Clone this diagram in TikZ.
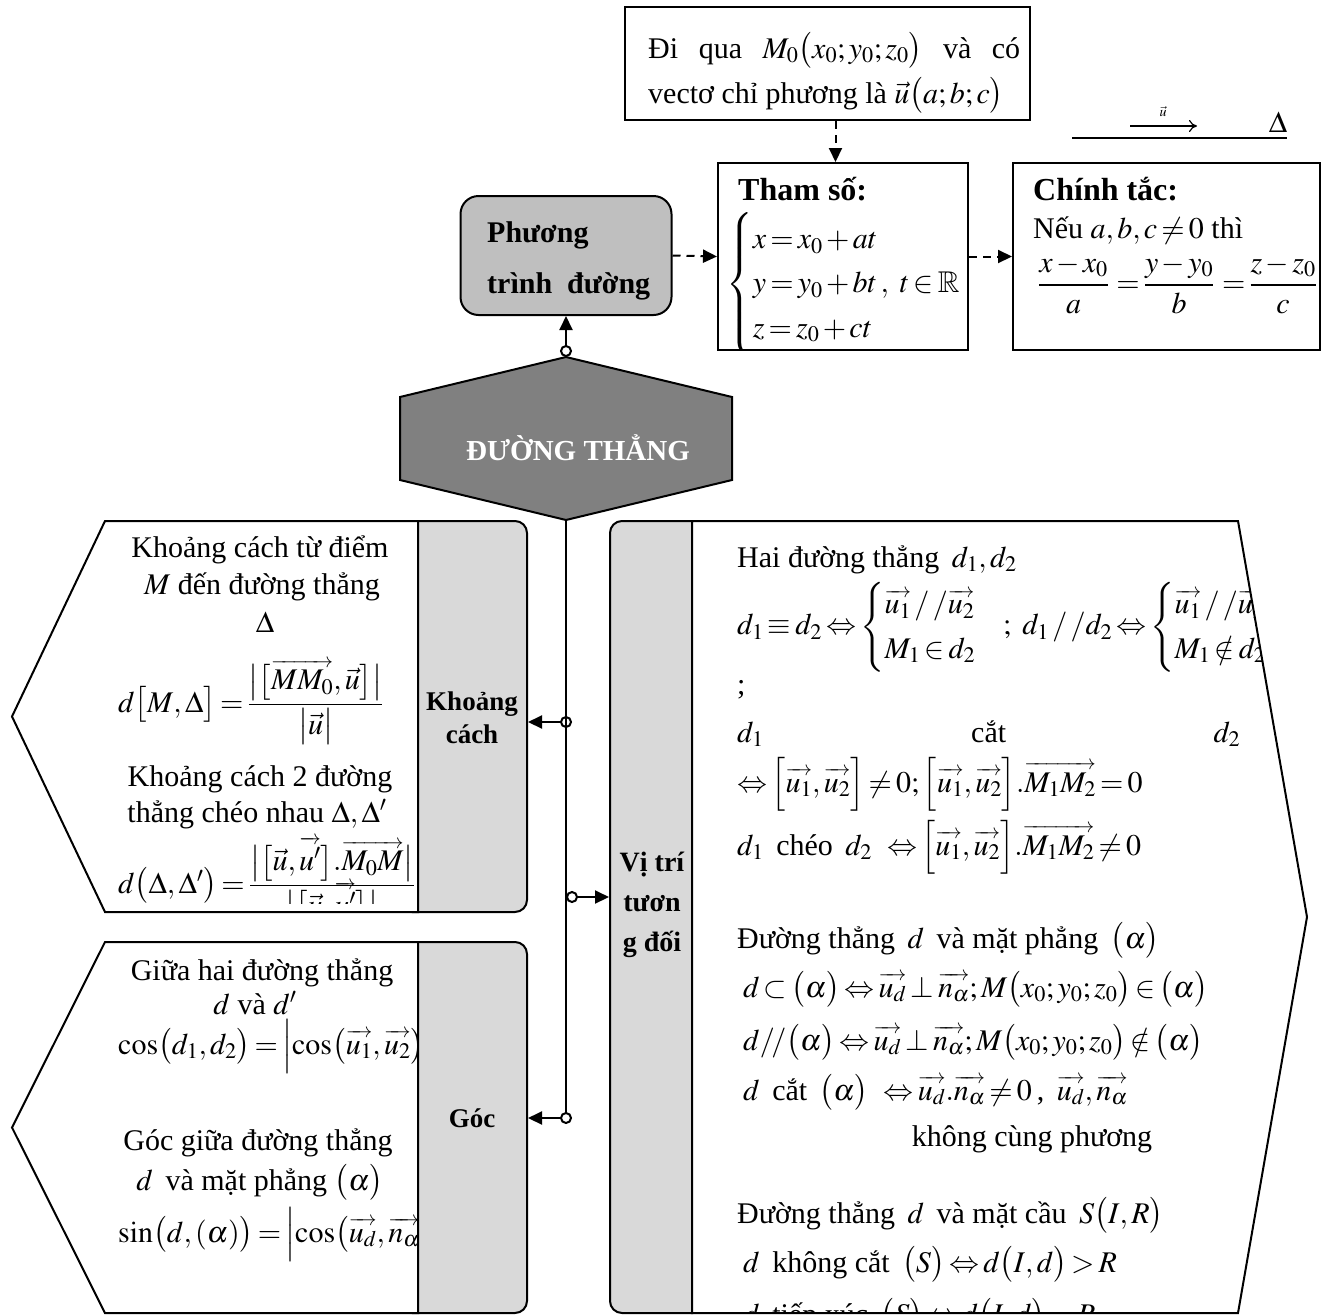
\documentclass[tikz,border=0pt]{standalone}
\usepackage{amsmath}
\usepackage{mathptmx}
\usepackage{amssymb}
\usepackage{fontspec}
\setmainfont{Liberation Serif}
\usetikzlibrary{arrows.meta}
\DeclareSymbolFont{lmsyms}{OMS}{lmsy}{m}{n}
\DeclareMathSymbol{\lmrightarrow}{\mathrel}{lmsyms}{"21}
\DeclareMathSymbol{\lmminus}{\mathord}{lmsyms}{"00}
\makeatletter
\newcommand{\vuarrowfill}{$\m@th\scriptstyle\smash{\lmminus}\mkern-7mu\cleaders\hbox{$\scriptstyle\mkern-2mu\smash{\lmminus}\mkern-2mu$}\hfill\mkern-7mu\smash{\lmrightarrow}$}
\newcommand{\vu}[1]{\mathord{\vbox{\m@th\ialign{##\crcr\vuarrowfill\crcr\noalign{\kern3pt\nointerlineskip}$\hfil#1\hfil$\crcr}}}}
\makeatother
\newcommand{\pa}[1]{\bigl(#1\bigr)}
\thickmuskip=2.5mu plus 1mu
\medmuskip=2mu plus 1mu
\tikzset{
  txt/.style={font=\fontsize{30}{37}\selectfont, inner sep=0pt},
  ltxt/.style={txt, anchor=base west},
  ctxt/.style={txt, anchor=base},
  hd/.style={font=\fontsize{32}{38}\selectfont\bfseries, inner sep=0pt, anchor=base west},
  lab/.style={font=\fontsize{27}{33}\selectfont\bfseries, align=center, inner sep=0pt},
  wbox/.style={draw, line width=2pt, rectangle, inner sep=0pt},
  gbox/.style={draw, line width=2pt, fill=gray!30, rounded corners=12pt, inner sep=0pt},
  panel/.style={draw, line width=2pt, fill=white, line join=miter},
  conn/.style={line width=2pt, {Circle[open,length=12pt,width=12pt,line width=2pt]}-{Triangle[length=14pt,width=13pt]}},
  dconn/.style={line width=2pt, dash pattern=on 8pt off 6pt, -{Triangle[length=14pt,width=13pt]}},
}

\begin{document}
\begin{tikzpicture}[x=1pt,y=-1pt]
\useasboundingbox (0,0) rectangle (1323,1315);
\fill[white] (0,0) rectangle (1323,1315);

\node[wbox, minimum width=405pt, minimum height=113pt] (dq) at (827.5,63.5) {};
\node[ltxt] (dq1) at (648,58) {\hbox to 372pt{Đi\hfill qua\hfill $M_0\bigl(x_0;y_0;z_0\bigr)$\hfill và\hfill có}};
\node[ltxt] (dq2) at (648,103) {vectơ chỉ phương là $\vec{u}\bigl(a;b;c\bigr)$};

\node[wbox, minimum width=250pt, minimum height=187pt] (ts) at (843,256.5) {};
\node[wbox, minimum width=307pt, minimum height=187pt] (ct) at (1166.5,256.5) {};
\node[gbox, fill=gray!50, rounded corners=18pt, minimum width=211pt, minimum height=119pt] (pt) at (566,255.5) {};

\node[hd, font=\fontsize{30}{36}\selectfont\bfseries] (pt1) at (487,242) {Phương};
\node[hd, font=\fontsize{30}{36}\selectfont\bfseries] (pt2) at (487,293) {trình\ \ đường};

\begin{scope}
\clip (718,163) rectangle (967,350);
\node[hd] (ts1) at (738,200) {Tham số:};
\node[txt, anchor=west] (ts2) at (726,284) {$\begin{cases}x=x_0+at\\ y=y_0+bt\,,\ t\in\mathbb{R}\\ z=z_0+ct\end{cases}$};
\end{scope}

\node[hd] (ct1) at (1033,200) {Chính tắc:};
\node[ltxt] (ct2) at (1033,238) {Nếu $a,b,c\neq0$ thì};
\node[txt, anchor=west] (ct3) at (1038,284) {$\dfrac{x-x_0}{a}\,=\dfrac{y-y_0}{b}\,=\dfrac{z-z_0}{c}$};

\coordinate (la) at (1072,138);
\coordinate (lb) at (1287,138);
\draw[line width=1.5pt] (la) -- (lb);
\coordinate (ua) at (1130,126);
\coordinate (ub) at (1197,126);
\draw[line width=1.2pt, -{To[length=8pt,width=12pt]}] (ua) -- (ub);
\node[inner sep=0pt, font=\fontsize{14}{16}\selectfont] (ul) at (1163,112) {$\vec{u}$};
\node[txt] (dl) at (1278,122) {$\Delta$};

\filldraw[fill=gray, line width=2pt] (566,357) -- (732,397) -- (732,480) -- (566,520) -- (400,480) -- (400,397) -- cycle;
\coordinate (ht) at (566,357);
\coordinate (hb) at (566,520);
\node[font=\fontsize{29}{34}\selectfont\bfseries, text=white, inner sep=0pt] (hx) at (578,448) {ĐƯỜNG THẲNG};

\node[gbox, minimum width=127pt, minimum height=391pt] (kc) at (463.5,716.5) {};
\node[gbox, minimum width=127pt, minimum height=371pt] (gc) at (463.5,1127.5) {};
\node[gbox, minimum width=95pt, minimum height=792pt] (vt) at (657.5,917) {};

\filldraw[panel] (105,521) -- (418,521) -- (418,912) -- (105,912) -- (12,716.5) -- cycle;
\filldraw[panel] (105,942) -- (418,942) -- (418,1313) -- (105,1313) -- (12,1127.5) -- cycle;
\filldraw[panel] (692,521) -- (1238,521) -- (1307,917) -- (1238,1313) -- (692,1313) -- cycle;

\node[lab] (kcl) at (472,718) {Khoảng\\cách};
\node[lab] (gcl) at (472,1118) {Góc};
\node[lab, font=\fontsize{28}{40}\selectfont\bfseries] (vtl) at (652,905) {Vị trí\\tươn\\g đối};

\begin{scope}
\clip (12,525) rectangle (416,903);
\node[ctxt] (k1) at (260,557) {Khoảng cách từ điểm};
\node[ctxt] (k2) at (262,594) {$M$ đến đường thẳng};
\node[ctxt] (k3) at (265,632) {$\Delta$};
\node[ltxt] (k4) at (118,712) {$d\bigl[M,\Delta\bigr]=\dfrac{\bigl|\bigl[\vu{MM_0},\vec{u}\bigr]\bigr|}{\bigl|\vec{u}\bigr|}$};
\node[ctxt] (k5) at (260,786) {Khoảng cách 2 đường};
\node[ctxt] (k6) at (257,822) {thẳng chéo nhau $\Delta,\Delta'$};
\node[ltxt] (k7) at (118,893) {$d\bigl(\Delta,\Delta'\bigr)=\dfrac{\bigl|\bigl[\vec{u},\vu{u'}\bigr].\vu{M_0M}\bigr|}{\bigl|\bigl[\vec{u},\vu{u'}\bigr]\bigr|}$};
\end{scope}

\begin{scope}
\clip (12,945) rectangle (416,1310);
\node[ctxt] (g1) at (262,980) {Giữa hai đường thẳng};
\node[ctxt] (g2) at (255,1014) {$d$ và $d'$};
\node[ltxt] (g3) at (118,1054) {$\cos\pa{d_1,d_2}=\Bigl|\cos\pa{\vu{u_1},\vu{u_2}}\Bigr|$};
\node[ctxt] (g4) at (258,1150) {Góc giữa đường thẳng};
\node[ctxt] (g5) at (260,1190) {$d$\, và mặt phẳng $\pa{\alpha}$};
\node[ltxt] (g6) at (118,1242) {$\sin\pa{d,(\alpha)}=\Bigl|\cos\pa{\vu{u_d},\vu{n_\alpha}}\Bigr|$};
\end{scope}

\begin{scope}
\clip (692,521) -- (1238,521) -- (1307,917) -- (1238,1311) -- (692,1311) -- cycle;
\node[ltxt] (v1) at (737,567) {Hai đường thẳng\, $d_1,d_2$};
\node[txt, anchor=west] (v2) at (737,627) {$d_1\equiv d_2\Leftrightarrow\begin{cases}\vu{u_1}\,/\,/\vu{u_2}\\ M_1\in d_2\end{cases}\!\!;\ d_1\,/\,/d_2\Leftrightarrow\begin{cases}\vu{u_1}\,/\,/\vu{u_2}\\ M_1\notin d_2\end{cases}$};
\node[ltxt] (v3) at (737,694) {;};
\node[ltxt] (v4) at (737,742) {\hbox to 503pt{$d_1$\hfill cắt\hfill $d_2$}};
\node[ltxt] (v5) at (737,792) {$\Leftrightarrow\Bigl[\vu{u_1},\vu{u_2}\Bigr]\neq0;\Bigl[\vu{u_1},\vu{u_2}\Bigr].\vu{M_1M_2}=0$};
\node[ltxt] (v6) at (737,855) {$d_1$\, chéo\, $d_2$\ \ $\Leftrightarrow\Bigl[\vu{u_1},\vu{u_2}\Bigr].\vu{M_1M_2}\neq0$};
\node[ltxt] (v7) at (737,948) {Đường thẳng\, $d$\, và mặt phẳng\, $\pa{\alpha}$};
\node[ltxt] (v8) at (743,997) {$d\subset\pa{\alpha}\Leftrightarrow\vu{u_d}\perp\vu{n_\alpha};M\pa{x_0;y_0;z_0}\in\pa{\alpha}$};
\node[ltxt] (v9) at (743,1050) {$d/\!/\pa{\alpha}\Leftrightarrow\vu{u_d}\perp\vu{n_\alpha};M\pa{x_0;y_0;z_0}\notin\pa{\alpha}$};
\node[ltxt] (v10) at (743,1100) {$d$\, cắt\, $\pa{\alpha}$\ \ $\Leftrightarrow\vu{u_d}.\vu{n_\alpha}\neq0$\,,\, $\vu{u_d},\vu{n_\alpha}$};
\node[ctxt] (v11) at (1032,1146) {không cùng phương};
\node[ltxt] (v12) at (737,1223) {Đường thẳng\, $d$\, và mặt cầu\, $S\pa{I,R}$};
\node[ltxt] (v13) at (743,1272) {$d$\, không cắt\, $\pa{S}\Leftrightarrow d\pa{I,d}>R$};
\node[ltxt] (v14) at (743,1324) {$d$\, tiếp xúc\, $\pa{S}\Leftrightarrow d\pa{I,d}=R$};
\end{scope}

\coordinate (jk) at (572,722);
\coordinate (jv) at (566,897);
\coordinate (jg) at (572,1118);
\draw[line width=2pt] (hb) -- (566,1112);
\draw[conn] (jk) -- (jk -| kc.east);
\draw[conn] (jv) -- (jv -| vt.west);
\draw[conn] (jg) -- (jg -| gc.east);
\draw[conn] (ht) -- (pt.south);
\draw[dconn] (pt.east) -- (ts.west);
\draw[dconn] (ts.east) -- (ct.west);
\draw[dconn] ([xshift=8pt]dq.south) -- ([xshift=8pt]dq.south |- ts.north);
\end{tikzpicture}
\end{document}
